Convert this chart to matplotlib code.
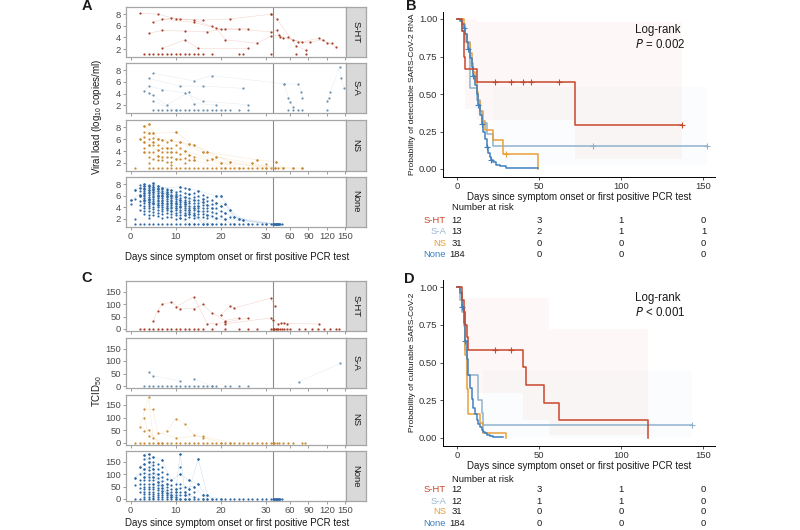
import numpy as np
import matplotlib
matplotlib.use('Agg')
import matplotlib.pyplot as plt
from matplotlib.transforms import blended_transform_factory

plt.rcParams['font.family'] = ['Liberation Sans', 'DejaVu Sans']
plt.rcParams['mathtext.default'] = 'regular'

# ---------------- colours ----------------
groups = ['S-HT', 'S-A', 'NS', 'None']
line_col = {'S-HT': '#C8472B', 'S-A': '#8FB2CF', 'NS': '#E8A03A', 'None': '#3F80BE'}
pt_col = {'S-HT': '#A5402A', 'S-A': '#6F8FAA', 'NS': '#C98A35', 'None': '#2C67A3'}
label_col = {'S-HT': '#C8472B', 'S-A': '#9BB7D4', 'NS': '#E8A03A', 'None': '#3F80BE'}

# ---------------- panel A data (log10 copies/ml; 1.1 = below LOD) ----------------
A_lod_value = 1.1
A_sht_traj = [
    [(2, 8.2), (6, 8.05), (10, 7.2), (16, 7.0), (22, 7.2), (31, 8.0)],
    [(5, 6.7), (9, 7.4), (11, 7.2), (14, 7.0), (18, 5.9), (20, 5.4), (24, 5.5), (26, 5.5)],
    [(4, 4.7), (7, 5.2), (12, 5.1), (17, 5.0), (21, 5.5), (31, 5.0), (38, 5.2), (44, 4.1),
     (57, 4.0), (73, 3.2), (93, 3.2), (114, 3.6), (135, 2.4)],
    [(7, 7.2), (14, 6.6), (19, 5.6), (21, 3.6), (28, 3.0), (31, 4.2), (41, 4.4), (49, 3.9),
     (65, 3.6), (80, 3.2), (107, 3.9), (121, 3.0), (128, 3.0)],
    [(7, 2.1), (12, 3.6), (15, 2.1), (26, 2.1)],
    [(31, 8.0), (38, 7.2), (70, 2.5), (86, 1.8)],
]
A_sht_lod = [3, 4, 5, 6, 7, 8, 9, 10, 11, 12, 13, 14, 15, 16, 18, 24, 25, 31, 70, 86]

A_sa_traj = [
    [(4, 6.6), (11, 5.3), (16, 5.3), (25, 4.9)],
    [(5, 7.5), (14, 6.2), (18, 7.1), (50, 5.7), (73, 5.6), (78, 4.3), (80, 3.3)],
    [(3, 4.4), (4, 5.3), (7, 4.7), (12, 4.1), (16, 2.7), (26, 2.1)],
    [(4, 4.1), (5, 3.8), (8, 2.0), (13, 4.3), (14, 2.3), (19, 2.1)],
    [(5, 2.7), (10, 1.1)],
    [(50, 5.6), (57, 3.3), (60, 2.5), (65, 1.7)],
    [(121, 2.7), (123, 3.3), (126, 4.3), (141, 8.6), (143, 6.6), (149, 4.9)],
]
A_sa_lod = [5, 6, 7, 8, 9, 10, 11, 12, 13, 14, 15, 16, 17, 18, 19, 20, 21, 22, 24, 26, 57, 65, 73, 80, 121]

A_ns_cols = {
    2: [6.1], 3: [8.3, 7.2, 6.4, 5.5, 4.6, 3.8], 4: [8.6, 7.0, 6.1, 5.0, 3.8, 3.0, 1.9],
    5: [7.0, 6.2, 5.5, 5.0, 3.8, 2.7], 6: [6.1, 5.0, 4.1, 3.2, 2.5], 7: [5.8, 4.6, 3.8, 3.0, 2.4],
    8: [5.5, 4.6, 3.8, 3.0, 2.2], 9: [5.8, 4.6, 3.8, 3.0, 2.2, 1.7], 10: [7.2, 5.0, 3.8, 2.7],
    11: [5.5, 4.6, 3.5, 2.7], 12: [4.0, 2.9, 2.0], 13: [5.2, 3.3, 2.4], 14: [5.0, 3.0, 2.4],
    16: [3.8], 17: [3.8, 2.4], 18: [2.7], 19: [3.0], 20: [1.9], 22: [2.2], 27: [1.9],
    28: [2.5], 30: [1.8], 37: [2.2],
}
A_ns_traj = [
    [(3, 8.3), (5, 7.0), (10, 7.2), (14, 5.0), (22, 2.2), (30, 1.1)],
    [(4, 8.6), (6, 6.1), (9, 5.8), (13, 5.2), (17, 3.8), (28, 2.5), (37, 2.2), (48, 1.1)],
    [(2, 6.1), (4, 7.0), (7, 5.8), (11, 5.5), (16, 3.8), (19, 3.0), (27, 1.9), (35, 1.1)],
    [(3, 5.5), (5, 5.5), (8, 4.6), (12, 4.0), (18, 2.7), (24, 1.1)],
    [(4, 5.0), (6, 4.1), (9, 3.8), (13, 3.3), (20, 1.9), (65, 1.1)],
    [(3, 3.8), (6, 3.2), (10, 2.7), (14, 2.4), (21, 1.1), (80, 1.1)],
]
A_ns_lod = [1, 4, 5, 6, 7, 8, 9, 10, 11, 12, 13, 14, 15, 16, 17, 18, 19, 20, 21, 22, 23, 24,
            25, 26, 27, 28, 29, 30, 31, 35, 40, 48, 65, 80]

A_none_cols = {
    0: [5.2, 4.6], 1: [7.0, 5.5, 2.0],
    2: [7.8, 7.3, 6.8, 6.2, 5.9, 5.0, 4.4, 3.6],
    3: [8.0, 7.7, 7.4, 7.1, 6.8, 6.5, 6.2, 5.9, 5.6, 5.3, 5.0, 4.7, 4.3, 3.9, 3.4, 2.8],
    4: [7.9, 7.6, 7.3, 7.0, 6.7, 6.4, 6.1, 5.8, 5.5, 5.2, 4.9, 4.6, 4.2, 3.8, 3.3, 2.7, 2.1],
    5: [8.1, 7.8, 7.5, 7.2, 6.9, 6.6, 6.3, 6.0, 5.7, 5.4, 5.1, 4.8, 4.5, 4.1, 3.7, 3.2, 2.6],
    6: [7.7, 7.4, 7.1, 6.8, 6.5, 6.2, 5.9, 5.6, 5.3, 5.0, 4.7, 4.4, 4.0, 3.6, 3.1, 2.5],
    7: [7.4, 7.1, 6.8, 6.5, 6.2, 5.9, 5.6, 5.3, 5.0, 4.7, 4.4, 4.1, 3.7, 3.3, 2.8, 2.2],
    8: [7.2, 6.9, 6.6, 6.3, 6.0, 5.7, 5.4, 5.1, 4.8, 4.5, 4.2, 3.9, 3.5, 3.0, 2.4],
    9: [6.9, 6.6, 6.2, 5.9, 5.6, 5.3, 5.0, 4.7, 4.4, 4.1, 3.8, 3.4, 2.9, 2.3],
    10: [6.6, 6.3, 6.0, 5.7, 5.4, 5.1, 4.8, 4.5, 4.2, 3.9, 3.5, 3.1, 2.6, 2.0],
    11: [7.5, 6.8, 6.1, 5.6, 5.2, 4.9, 4.6, 4.3, 4.0, 3.6, 3.2, 2.7, 2.1],
    12: [7.3, 6.5, 5.8, 5.3, 4.9, 4.5, 4.2, 3.9, 3.5, 3.1, 2.6, 2.0],
    13: [7.2, 6.3, 5.6, 5.1, 4.7, 4.3, 3.9, 3.6, 3.2, 2.8, 2.3],
    14: [6.4, 5.8, 5.2, 4.7, 4.3, 3.9, 3.5, 3.1, 2.6, 2.1],
    15: [6.8, 6.0, 5.3, 4.7, 4.2, 3.8, 3.4, 2.9, 2.4],
    16: [6.2, 5.5, 4.9, 4.4, 3.9, 3.4, 2.9, 2.3],
    17: [5.8, 5.0, 4.4, 3.8, 3.3, 2.7, 2.1],
    18: [5.3, 4.5, 3.9, 3.2, 2.5], 19: [6.0, 4.8, 3.8, 3.0, 2.2], 20: [6.0, 4.2, 3.3, 2.5],
    21: [4.5, 3.0, 2.0], 22: [3.6, 2.4], 23: [2.3], 24: [2.0], 25: [1.8],
}
A_none_traj = [
    [(3, 8.0), (5, 7.5), (8, 6.6), (11, 5.2), (14, 3.9), (17, 2.7), (20, 1.1)],
    [(4, 7.6), (6, 7.1), (9, 5.9), (12, 4.5), (15, 3.4), (19, 2.2), (23, 1.1)],
    [(2, 7.3), (5, 6.6), (7, 5.9), (10, 4.8), (13, 3.6), (16, 1.1)],
    [(3, 6.5), (6, 5.9), (9, 4.7), (11, 4.0), (14, 2.6), (18, 1.1)],
    [(5, 8.1), (7, 7.4), (11, 7.5), (13, 7.2), (15, 6.8), (19, 6.0), (20, 6.0), (22, 3.6), (25, 1.8), (30, 1.1)],
    [(3, 5.3), (5, 4.8), (8, 3.9), (12, 2.6), (14, 1.1)],
    [(4, 7.0), (8, 6.3), (12, 5.8), (16, 4.9), (18, 3.9), (21, 3.0), (24, 2.0), (32, 1.1)],
    [(2, 5.9), (4, 4.9), (6, 4.4), (9, 3.4), (11, 2.1), (13, 1.1)],
    [(6, 7.7), (9, 6.9), (13, 6.3), (16, 5.5), (19, 4.8), (21, 4.5), (23, 2.3), (36, 1.1)],
    [(3, 7.1), (7, 6.5), (10, 6.0), (14, 5.2), (17, 4.4), (20, 4.2), (26, 1.1)],
    [(1, 7.0), (3, 7.7), (5, 7.2), (8, 6.0), (12, 4.9), (15, 4.2), (21, 2.0), (40, 1.1)],
    [(0, 5.2), (2, 6.2), (4, 5.5), (7, 4.7), (10, 3.9), (13, 2.8), (17, 1.1)],
]
A_none_lod = list(range(1, 32)) + [32, 33, 34, 35, 36, 37, 38, 39, 40, 41, 42, 44, 46]

# ---------------- panel C data (TCID50; 0 = negative) ----------------
C_lod_value = 0
C_sht_traj = [
    [(5, 31), (6, 73), (7, 99), (9, 108), (11, 81), (14, 81), (16, 99), (18, 64), (21, 34), (24, 44)],
    [(10, 88), (14, 128), (17, 21), (19, 21), (21, 27), (26, 44)],
    [(20, 57), (22, 92), (23, 84), (31, 123), (35, 92)],
    [(21, 21), (31, 44), (32, 36), (40, 20), (45, 23), (50, 25), (55, 22), (107, 20)],
]
C_sht_lod = [2, 3, 4, 5, 6, 7, 8, 9, 10, 11, 12, 13, 14, 15, 16, 18, 21, 24, 26, 28, 31,
             32, 33, 34, 36, 38, 40, 43, 46, 50, 55, 60, 75, 85, 95, 105, 115, 125, 135, 140]
C_sa_traj = [
    [(4, 55), (5, 41), (11, 20)],
    [(14, 29), (18, 0)],
    [(74, 17), (142, 91)],
]
C_sa_lod = [3, 4, 5, 6, 7, 8, 9, 10, 11, 12, 13, 14, 15, 16, 17, 18, 19, 21, 22, 24, 26]
C_ns_traj = [
    [(2, 61), (4, 183), (5, 20), (8, 47), (10, 96), (12, 74), (14, 31), (16, 20), (20, 0)],
    [(3, 133), (5, 133), (6, 40), (10, 20), (16, 25), (22, 0)],
    [(3, 100), (4, 26), (7, 0)],
    [(3, 48), (4, 52), (6, 0)],
]
C_ns_lod = list(range(1, 35)) + [38, 42, 48, 56, 65, 80, 85]
C_none_cols = {
    1: [85, 55], 2: [130, 100, 75, 60, 45, 30],
    3: [178, 160, 140, 120, 105, 90, 75, 62, 50, 40, 30, 20, 10],
    4: [180, 165, 150, 130, 115, 100, 88, 75, 62, 50, 40, 30, 20, 10],
    5: [170, 150, 135, 120, 105, 90, 75, 62, 50, 40, 30, 20, 12, 5],
    6: [140, 120, 100, 85, 70, 58, 46, 35, 25, 15, 8],
    7: [155, 130, 110, 90, 72, 58, 45, 34, 24, 15, 8],
    8: [100, 80, 62, 48, 36, 25, 15, 8], 9: [75, 55, 40, 28, 18, 10],
    10: [60, 42, 28, 18, 10], 11: [180, 130, 100, 62, 45, 30, 15], 12: [50, 30, 15],
    13: [75, 40, 20], 14: [50, 30, 10], 15: [160, 60], 16: [15], 17: [15],
}
C_none_traj = [
    [(3, 178), (4, 150), (7, 58), (10, 0)],
    [(4, 180), (5, 120), (6, 70), (8, 25), (11, 0)],
    [(10, 30), (11, 180), (12, 30), (13, 0)],
    [(13, 40), (15, 160), (17, 15), (18, 0)],
    [(2, 130), (3, 140), (5, 90), (7, 45), (9, 10), (12, 0)],
    [(5, 170), (7, 155), (9, 75), (11, 100), (13, 75), (15, 60), (17, 0)],
    [(3, 90), (6, 100), (8, 62), (10, 42), (14, 50), (16, 15), (20, 0)],
    [(1, 85), (3, 120), (5, 62), (7, 34), (9, 18), (12, 15), (16, 0)],
]
C_none_lod = list(range(1, 32)) + [32, 33, 34, 35, 36, 37, 38, 39, 40, 41, 42, 44, 46]

# ---------------- Kaplan-Meier data ----------------
B_sht_t = [0, 3, 4, 5, 12, 72]
B_sht_s = [1, 0.917, 0.75, 0.667, 0.583, 0.292]
B_sht_end, B_sht_cens = 137, [23, 33, 40, 45, 62, 137]
B_sa_t = [0, 3, 5, 8, 12, 14, 16, 18, 22]
B_sa_s = [1, 0.923, 0.846, 0.538, 0.462, 0.385, 0.308, 0.231, 0.154]
B_sa_end, B_sa_cens = 152, [83, 152]
B_ns_t = [0, 4, 5, 6, 8, 9, 10, 11, 12, 13, 14, 15, 17, 22, 28, 49]
B_ns_s = [1, 0.968, 0.903, 0.839, 0.774, 0.71, 0.645, 0.58, 0.516, 0.452, 0.387, 0.323, 0.258, 0.194, 0.1, 0.0]
B_ns_end, B_ns_cens = 49, [30]
B_none_t = [0, 2, 3, 4, 5, 6, 7, 8, 9, 10, 11, 12, 13, 14, 15, 16, 17, 18, 19, 20, 21, 22, 24, 26, 30]
B_none_s = [1, 0.99, 0.97, 0.94, 0.9, 0.85, 0.8, 0.74, 0.68, 0.62, 0.56, 0.5, 0.43, 0.36, 0.3,
            0.25, 0.2, 0.15, 0.11, 0.08, 0.06, 0.045, 0.03, 0.02, 0.01]
B_none_end, B_none_cens = 49, [4, 7, 10, 13, 15, 18, 21]
B_sht_band_t, B_sht_band_lo, B_sht_band_hi = [5, 12, 72, 137], [0.4, 0.33, 0.07, 0.07], [1.0, 0.98, 0.98, 0.98]
B_sa_band_t, B_sa_band_lo, B_sa_band_hi = [22, 152], [0.03, 0.03], [0.55, 0.55]

D_sht_t = [0, 3, 4, 5, 6, 7, 40, 42, 53, 62, 116]
D_sht_s = [1, 0.917, 0.833, 0.75, 0.667, 0.583, 0.467, 0.35, 0.233, 0.117, 0.0]
D_sht_end, D_sht_cens = 116, [23, 33]
D_sa_t = [0, 2, 3, 5, 6, 13, 15, 16]
D_sa_s = [1, 0.917, 0.833, 0.583, 0.417, 0.25, 0.167, 0.083]
D_sa_end, D_sa_cens = 143, [143]
D_ns_t = [0, 2, 3, 4, 5, 6, 7, 14, 16, 30]
D_ns_s = [1, 0.968, 0.871, 0.742, 0.548, 0.323, 0.161, 0.097, 0.032, 0.0]
D_ns_end, D_ns_cens = 30, []
D_none_t = [0, 2, 3, 4, 5, 6, 7, 8, 9, 10, 11, 12, 13, 14, 15, 16, 17, 18, 20, 22, 25]
D_none_s = [1, 0.96, 0.87, 0.76, 0.64, 0.52, 0.42, 0.33, 0.26, 0.2, 0.16, 0.12, 0.09, 0.07,
            0.05, 0.04, 0.03, 0.02, 0.012, 0.008, 0.004]
D_none_end, D_none_cens = 28, [3, 5]
D_sht_band_t, D_sht_band_lo, D_sht_band_hi = [5, 40, 56, 116], [0.3, 0.12, 0.02, 0.02], [0.93, 0.93, 0.72, 0.72]
D_sa_band_t, D_sa_band_lo, D_sa_band_hi = [16, 143], [0.0, 0.0], [0.45, 0.45]

risk_times = [0, 50, 100, 150]
B_risk_sht, B_risk_sa, B_risk_ns, B_risk_none = [12, 3, 1, 0], [13, 2, 1, 1], [31, 0, 0, 0], [184, 0, 0, 0]
D_risk_sht, D_risk_sa, D_risk_ns, D_risk_none = [12, 3, 1, 0], [12, 1, 1, 0], [31, 0, 0, 0], [184, 0, 0, 0]

# ---------------- figure ----------------
W, H = 800, 530
fig = plt.figure(figsize=(8, 5.3), dpi=100)


def pax(x0, y0, x1, y1, **kw):
    return fig.add_axes([x0 / W, 1 - y1 / H, (x1 - x0) / W, (y1 - y0) / H], **kw)


BRK, K = 31.5, 0.135


def fwd(x):
    x = np.asarray(x, dtype=float)
    return np.where(x <= BRK, x, BRK + (x - BRK) * K)


def inv(u):
    u = np.asarray(u, dtype=float)
    return np.where(u <= BRK, u, BRK + (u - BRK) / K)


def draw_traj(ax, trajs, g):
    for tr in trajs:
        xs = [p[0] for p in tr]
        ys = [p[1] for p in tr]
        ax.plot(xs, ys, color=line_col[g], lw=0.4, alpha=0.22, zorder=1)
        ax.plot(xs, ys, ls='none', marker='o', ms=1.6, mew=0, color=pt_col[g], zorder=3)


def draw_cols(ax, cols, g):
    for d, vals in cols.items():
        ax.plot([d] * len(vals), vals, ls='none', marker='o', ms=1.6, mew=0,
                color=pt_col[g], zorder=3)


def draw_lod(ax, days, val, g):
    ax.plot(days, [val] * len(days), ls='none', marker='o', ms=1.6, mew=0,
            color=pt_col[g], zorder=3)


def facet_panel(rows, data, ylim, yticks, show_x):
    axes = []
    for i, (g, (y0, y1)) in enumerate(zip(groups, rows)):
        ax = pax(126, y0, 346, y1)
        ax.set_xscale('function', functions=(fwd, inv))
        ax.set_xlim(-1.0, 151.5)
        ax.set_ylim(*ylim)
        ax.axvline(BRK, color='#8C8C8C', lw=0.8, zorder=2)
        trajs, cols, lod, lodv = data[g]
        if cols:
            draw_cols(ax, cols, g)
        draw_traj(ax, trajs, g)
        draw_lod(ax, lod, lodv, g)
        ax.set_yticks(yticks)
        ax.set_xticks([0, 10, 20, 30, 60, 90, 120, 150])
        ax.tick_params(axis='both', labelsize=6.8, colors='#4D4D4D', length=2, width=0.6,
                       pad=1.5)
        ax.tick_params(axis='both', color='#8C8C8C')
        if i < 3 or not show_x:
            ax.tick_params(axis='x', labelbottom=False)
        for sp in ax.spines.values():
            sp.set_color('#A6A6A6')
            sp.set_linewidth(0.9)
        st = pax(346, y0, 366, y1)
        st.set_facecolor('#D9D9D9')
        st.set_xticks([])
        st.set_yticks([])
        for sp in st.spines.values():
            sp.set_color('#A6A6A6')
            sp.set_linewidth(0.9)
        st.text(0.5, 0.5, g, rotation=-90, ha='center', va='center', fontsize=6.8,
                color='#1A1A1A', transform=st.transAxes)
        axes.append(ax)
    return axes


A_data = {
    'S-HT': (A_sht_traj, None, A_sht_lod, A_lod_value),
    'S-A': (A_sa_traj, None, A_sa_lod, A_lod_value),
    'NS': (A_ns_traj, A_ns_cols, A_ns_lod, A_lod_value),
    'None': (A_none_traj, A_none_cols, A_none_lod, A_lod_value),
}
C_data = {
    'S-HT': (C_sht_traj, None, C_sht_lod, C_lod_value),
    'S-A': (C_sa_traj, None, C_sa_lod, C_lod_value),
    'NS': (C_ns_traj, None, C_ns_lod, C_lod_value),
    'None': (C_none_traj, C_none_cols, C_none_lod, C_lod_value),
}

A_rows = [(7, 56.7), (63, 113), (120, 170.7), (176.7, 226.7)]
C_rows = [(281, 331), (338, 388), (394.5, 444.5), (451, 501)]
facet_panel(A_rows, A_data, (0.67, 9.26), [2, 4, 6, 8], True)
facet_panel(C_rows, C_data, (-8, 192), [0, 50, 100, 150], True)

fig.text(97 / W, 1 - 117 / H, 'Viral load (log$_{10}$ copies/ml)', rotation=90, ha='center',
         va='center', fontsize=7, color='#1A1A1A')
fig.text(97 / W, 1 - 391 / H, 'TCID$_{50}$', rotation=90, ha='center', va='center',
         fontsize=7, color='#1A1A1A')
fig.text(237 / W, 1 - 257 / H, 'Days since symptom onset or first positive PCR test',
         ha='center', va='center', fontsize=7, color='#1A1A1A')
fig.text(237 / W, 1 - 523 / H, 'Days since symptom onset or first positive PCR test',
         ha='center', va='center', fontsize=7, color='#1A1A1A')


# ---------------- KM panels ----------------
def surv_at(t, s, c):
    idx = np.searchsorted(t, c, side='right') - 1
    return s[idx]


def km_panel(y0, y1, curves, bands, ylab, ptxt, risks, risk_y, nar_y):
    ax = pax(443, y0, 715, y1)
    ax.set_xlim(-8.5, 157)
    ax.set_ylim(-0.05, 1.05)
    for g, (bt, blo, bhi) in bands.items():
        ax.fill_between(bt, blo, bhi, step='post', color=line_col[g], alpha=0.035, lw=0)
    for g in ['S-A', 'NS', 'None', 'S-HT']:
        t, s, end, cens = curves[g]
        tt = list(t) + [end]
        ss = list(s) + [s[-1]]
        ax.step(tt, ss, where='post', color=line_col[g], lw=1.1, zorder=3)
        if cens:
            ax.plot(cens, [surv_at(t, s, c) for c in cens], ls='none', marker='+', ms=4,
                    mew=0.8, color=line_col[g], zorder=4)
    ax.set_xticks([0, 50, 100, 150])
    ax.set_yticks([0, 0.25, 0.5, 0.75, 1.0])
    ax.set_yticklabels(['0.00', '0.25', '0.50', '0.75', '1.00'])
    ax.tick_params(labelsize=6.8, colors='#333333', length=2.5, width=0.6, pad=1.5)
    for sp in ['top', 'right']:
        ax.spines[sp].set_visible(False)
    for sp in ['left', 'bottom']:
        ax.spines[sp].set_linewidth(0.7)
    ax.set_ylabel(ylab, fontsize=6, color='#1A1A1A', labelpad=2)
    ax.set_xlabel('Days since symptom onset or first positive PCR test', fontsize=7,
                  color='#1A1A1A', labelpad=0.5)
    ax.text(108.5, 0.93, 'Log-rank', fontsize=8.3, ha='left', va='center', color='#1A1A1A')
    ax.text(108.5, 0.83, ptxt, fontsize=8.3, ha='left', va='center', color='#1A1A1A')
    tr = blended_transform_factory(ax.transData, fig.transFigure)
    fig.text(452 / W, 1 - nar_y / H, 'Number at risk', fontsize=6.8, ha='left', va='center',
             color='#1A1A1A')
    for g, yy in zip(groups, risk_y):
        fig.text(446 / W, 1 - yy / H, g, fontsize=6.8, ha='right', va='center',
                 color=label_col[g])
        for tx, n in zip(risk_times, risks[g]):
            ax.text(tx, 1 - yy / H, str(n), transform=tr, fontsize=6.8, ha='center',
                    va='center', color='#1A1A1A')
    return ax


B_curves = {
    'S-HT': (B_sht_t, B_sht_s, B_sht_end, B_sht_cens),
    'S-A': (B_sa_t, B_sa_s, B_sa_end, B_sa_cens),
    'NS': (B_ns_t, B_ns_s, B_ns_end, B_ns_cens),
    'None': (B_none_t, B_none_s, B_none_end, B_none_cens),
}
B_bands = {'S-HT': (B_sht_band_t, B_sht_band_lo, B_sht_band_hi),
           'S-A': (B_sa_band_t, B_sa_band_lo, B_sa_band_hi)}
B_risks = {'S-HT': B_risk_sht, 'S-A': B_risk_sa, 'NS': B_risk_ns, 'None': B_risk_none}
km_panel(11.5, 176.5, B_curves, B_bands, 'Probability of detectable SARS-CoV-2 RNA',
         '$\\it{P}$ = 0.002', B_risks, [220.5, 232, 243, 254.5], 207.5)

D_curves = {
    'S-HT': (D_sht_t, D_sht_s, D_sht_end, D_sht_cens),
    'S-A': (D_sa_t, D_sa_s, D_sa_end, D_sa_cens),
    'NS': (D_ns_t, D_ns_s, D_ns_end, D_ns_cens),
    'None': (D_none_t, D_none_s, D_none_end, D_none_cens),
}
D_bands = {'S-HT': (D_sht_band_t, D_sht_band_lo, D_sht_band_hi),
           'S-A': (D_sa_band_t, D_sa_band_lo, D_sa_band_hi)}
D_risks = {'S-HT': D_risk_sht, 'S-A': D_risk_sa, 'NS': D_risk_ns, 'None': D_risk_none}
km_panel(279.5, 445.5, D_curves, D_bands, 'Probability of culturable SARS-CoV-2',
         '$\\it{P}$ < 0.001', D_risks, [489.5, 501, 512, 523.5], 480)

# panel letters
for letter, (x, y) in {'A': (87, 6), 'B': (411, 6), 'C': (87, 278), 'D': (409, 279)}.items():
    fig.text(x / W, 1 - y / H, letter, fontsize=10.5, fontweight='bold', ha='center',
             va='center', color='#1A1A1A')

fig.savefig('out.png', dpi=100, facecolor='white')
